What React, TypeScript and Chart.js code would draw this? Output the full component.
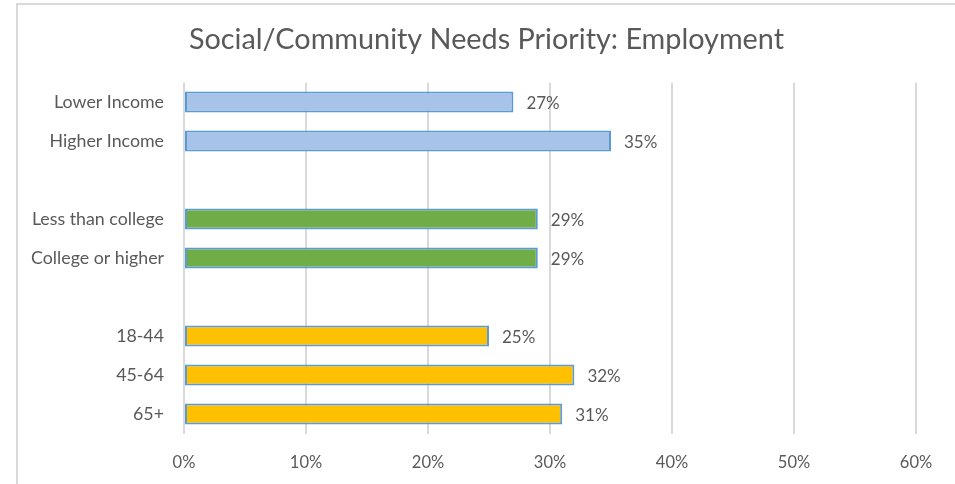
import React, { useEffect, useRef } from "react";
import { Chart, registerables } from "chart.js";

Chart.register(...registerables);

const titleText = "Social/Community Needs Priority: Employment";
const categories = ["Lower Income", "Higher Income", "", "Less than college", "College or higher", "", "18-44", "45-64", "65+"];
const values: (number | null)[] = [27, 35, null, 29, 29, null, 25, 32, 31];
const groupOf = ["income", "income", "", "edu", "edu", "", "age", "age", "age"];
const xTicks = [0, 10, 20, 30, 40, 50, 60];

const fills: Record<string, string> = { income: "#a7c3e8", edu: "#70ad47", age: "#ffc000", "": "#ffffff" };
const FONT = "Lato, 'Open Sans', sans-serif";
const GRAY = "#595959";
const FRAME_LEFT = 16;

const labelPlugin = {
  id: "valueLabels",
  afterDatasetsDraw(chart: any) {
    const ctx = chart.ctx;
    const meta = chart.getDatasetMeta(0);
    ctx.save();
    ctx.font = `17px ${FONT}`;
    ctx.fillStyle = GRAY;
    ctx.textBaseline = "middle";
    ctx.textAlign = "left";
    meta.data.forEach((bar: any, i: number) => {
      const v = values[i];
      if (v == null) return;
      ctx.fillText(`${v}%`, bar.x + 13, bar.y + 2);
    });
    ctx.restore();
  },
};

const titlePlugin = {
  id: "frameTitle",
  afterDraw(chart: any) {
    const ctx = chart.ctx;
    ctx.save();
    ctx.font = `28.8px ${FONT}`;
    ctx.fillStyle = GRAY;
    ctx.textAlign = "center";
    ctx.textBaseline = "middle";
    ctx.fillText(titleText, (FRAME_LEFT + chart.width) / 2 + 1, 40);
    ctx.restore();
  },
};

export default function App() {
  const ref = useRef<HTMLCanvasElement>(null);
  useEffect(() => {
    if (!ref.current) return;
    const chart = new Chart(ref.current, {
      type: "bar",
      data: {
        labels: categories,
        datasets: [
          {
            data: values,
            backgroundColor: groupOf.map((g) => fills[g]),
            borderColor: "#5b9bd5",
            borderWidth: 2,
            borderSkipped: false,
            barPercentage: 0.54,
            categoryPercentage: 1,
          },
        ],
      },
      options: {
        indexAxis: "y",
        animation: false,
        responsive: false,
        maintainAspectRatio: false,
        layout: { padding: { left: 0, right: 39, top: 82.5, bottom: 0 } },
        plugins: {
          legend: { display: false },
          tooltip: { enabled: false },
          title: { display: false },
        },
        scales: {
          x: {
            min: 0,
            max: 60,
            afterBuildTicks: (s: any) => {
              s.ticks = xTicks.map((v) => ({ value: v }));
            },
            afterFit: (s: any) => {
              s.height = 50.5;
            },
            grid: { color: "#d9d9d9", lineWidth: 2, drawTicks: false },
            border: { display: false },
            ticks: {
              color: GRAY,
              font: { family: FONT, size: 16.5 },
              padding: 19,
              callback: (v: any) => `${v}%`,
            },
          },
          y: {
            afterFit: (s: any) => {
              s.width = 184;
            },
            grid: { display: false, drawTicks: false },
            border: { display: false },
            ticks: {
              color: GRAY,
              font: { family: FONT, size: 17.8 },
              padding: 20,
              autoSkip: false,
            },
          },
        },
      },
      plugins: [labelPlugin, titlePlugin],
    });
    return () => chart.destroy();
  }, []);

  return (
    <div style={{ position: "fixed", left: 0, top: 0, width: 955, height: 484, background: "#fff" }}>
      <div
        style={{
          position: "absolute",
          left: FRAME_LEFT,
          top: 3,
          right: 0,
          bottom: 0,
          borderTop: "2px solid #d9d9d9",
          borderLeft: "2px solid #d9d9d9",
        }}
      />
      <canvas ref={ref} width={955} height={484} style={{ position: "absolute", left: 0, top: 0 }} />
    </div>
  );
}
